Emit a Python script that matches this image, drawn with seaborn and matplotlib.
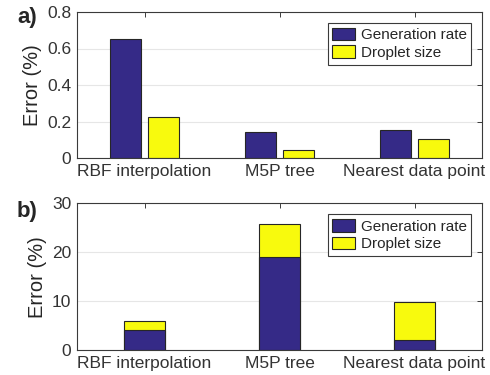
import matplotlib
matplotlib.use("Agg")
import matplotlib.pyplot as plt
import seaborn as sns
import pandas as pd

methods = ["RBF interpolation", "M5P tree", "Nearest data point"]
series = ["Generation rate", "Droplet size"]
# panel a) values (%)
gen_a = [0.65, 0.14, 0.153]
drop_a = [0.223, 0.042, 0.102]
# panel b) stacked values (%)
gen_b = [4.15, 19.1, 2.05]
drop_b = [1.8, 6.7, 7.7]
yticks_a = [0, 0.2, 0.4, 0.6, 0.8]
yticks_b = [0, 10, 20, 30]

BLUE = "#352a87"
YELLOW = "#f8fa0d"
EDGE = "#262626"

sns.set_style("white")
plt.rcParams["font.family"] = ["Liberation Sans", "DejaVu Sans"]
plt.rcParams["axes.edgecolor"] = "#3a3a3a"
plt.rcParams["axes.linewidth"] = 0.8

fig = plt.figure(figsize=(4.9, 3.75), dpi=100)
ax1 = fig.add_axes([77 / 490, 1 - 158 / 375, 405 / 490, 146 / 375])
ax2 = fig.add_axes([77 / 490, 1 - 350 / 375, 405 / 490, 146.7 / 375])

df_a = pd.DataFrame({
    "method": methods * 2,
    "series": [series[0]] * 3 + [series[1]] * 3,
    "value": gen_a + drop_a,
})
sns.barplot(data=df_a, x="method", y="value", hue="series", order=methods,
            hue_order=series, palette=[BLUE, YELLOW], width=0.566, gap=0.19,
            edgecolor=EDGE, linewidth=0.8, saturation=1, ax=ax1)

totals_b = [g + d for g, d in zip(gen_b, drop_b)]
df_b = pd.DataFrame({"method": methods, "total": totals_b, "gen": gen_b})
sns.barplot(data=df_b, x="method", y="total", order=methods, color=YELLOW,
            width=0.3, edgecolor=EDGE, linewidth=0.8, saturation=1, ax=ax2)
sns.barplot(data=df_b, x="method", y="gen", order=methods, color=BLUE,
            width=0.3, edgecolor=EDGE, linewidth=0.8, saturation=1, ax=ax2)

for ax, yt in ((ax1, yticks_a), (ax2, yticks_b)):
    ax.set_xlim(-0.5, 2.5)
    ax.set_ylim(yt[0], yt[-1])
    ax.set_yticks(yt)
    ax.set_yticklabels([("%g" % v) for v in yt])
    ax.set_xlabel("")
    ax.set_ylabel("Error (%)", fontsize=14.5, color="#262626", labelpad=4)
    ax.yaxis.grid(True, color="#e6e6e6", linewidth=0.8)
    ax.set_axisbelow(True)
    ax.tick_params(direction="in", top=True, right=True, length=3.5,
                   width=0.7, colors="#3a3a3a", labelsize=12.5,
                   labelcolor="#333333", pad=4)
    for s in ax.spines.values():
        s.set_visible(True)

# legends
h1 = [ax1.containers[0][0], ax1.containers[1][0]]
h2 = [ax2.containers[1][0], ax2.containers[0][0]]
for ax, h in ((ax1, h1), (ax2, h2)):
    lg = ax.legend(h, series, loc="upper right", bbox_to_anchor=(0.985, 0.955),
                   fontsize=11, frameon=True, fancybox=False,
                   edgecolor="#3a3a3a", framealpha=1, handlelength=1.5,
                   handleheight=0.9, handletextpad=0.35, borderpad=0.3,
                   borderaxespad=0.3, labelspacing=0.2)
    lg.get_frame().set_linewidth(0.8)

fig.text(17 / 490, 1 - 17 / 375, "a)", fontsize=16, fontweight="bold",
         va="center", ha="left")
fig.text(17 / 490, 1 - 211 / 375, "b)", fontsize=16, fontweight="bold",
         va="center", ha="left")

fig.savefig("out.png", dpi=100)
